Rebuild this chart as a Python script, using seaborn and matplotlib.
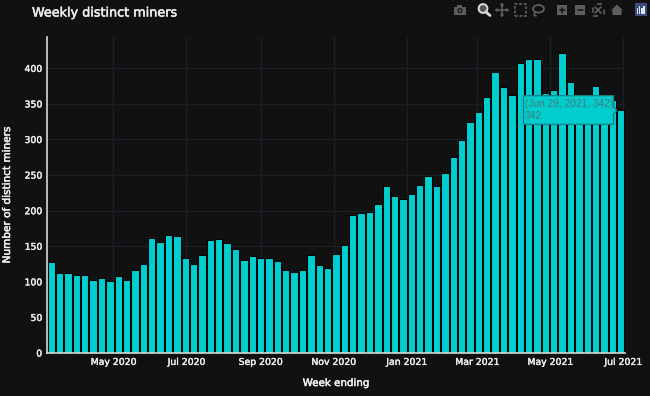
import matplotlib
matplotlib.use("Agg")
import matplotlib.pyplot as plt
import matplotlib.dates as mdates
import matplotlib.patches as mp
import matplotlib.patheffects as pe
from matplotlib.lines import Line2D
import pandas as pd
import seaborn as sns

first_week = "2020-03-10"
miners = [128, 112, 112, 109, 110, 102, 105, 101, 108, 102, 116, 125, 161, 156, 166, 164,
          133, 125, 138, 159, 160, 155, 146, 131, 136, 134, 134, 129, 116, 114, 117, 137,
          123, 119, 139, 152, 194, 197, 198, 209, 235, 220, 217, 224, 236, 248, 235, 253,
          276, 299, 324, 339, 360, 395, 374, 363, 407, 413, 413, 366, 370, 422, 381, 345,
          340, 375, 350, 356, 342]
title = "Weekly distinct miners"
xlabel = "Week ending"
ylabel = "Number of distinct miners"
tooltip_lines = ["(Jun 29, 2021, 342)", "342"]

BG = "#111111"
BAR = "#00CDCD"
GRID = "#1B2028"
TXT = "#F0F0F0"
W, H = 650, 396
BOLD = [pe.withStroke(linewidth=0.35, foreground=TXT)]

sns.set_theme(style="dark")
plt.rcParams["font.family"] = ["DejaVu Sans"]

weeks = pd.date_range(first_week, periods=len(miners), freq="7D")
df = pd.DataFrame({"week": mdates.date2num(weeks), "miners": miners})

fig = plt.figure(figsize=(6.5, 3.96), dpi=100, facecolor=BG)
ax = fig.add_axes([47 / W, 1 - 353 / H, (625 - 47) / W, (353 - 36.7) / H], facecolor=BG)

sns.barplot(data=df, x="week", y="miners", native_scale=True, color=BAR, saturation=1,
            width=0.88, edgecolor="#050505", linewidth=0.75, ax=ax, zorder=3)

ax.set_xlim(df.week.iloc[0] - 3.5, df.week.iloc[-1] + 3.5)
ax.set_ylim(0, 316.3 / 0.7117)
ax.xaxis_date()
ax.xaxis.set_major_locator(mdates.MonthLocator(bymonth=[1, 3, 5, 7, 9, 11]))
ax.xaxis.set_major_formatter(mdates.DateFormatter("%b %Y"))
ax.set_yticks(range(0, 401, 50))
ax.grid(True, color=GRID, linewidth=1, zorder=0)
ax.set_axisbelow(True)
ax.tick_params(axis="both", length=0, colors="#EDEDED", labelsize=6.7, pad=3.5)
for lab in ax.get_xticklabels() + ax.get_yticklabels():
    lab.set_path_effects([pe.withStroke(linewidth=0.3, foreground="#EDEDED")])
for s in ["top", "right"]:
    ax.spines[s].set_visible(False)
for s in ["left", "bottom"]:
    ax.spines[s].set_color("#D8D8D8")
    ax.spines[s].set_linewidth(1.2)
    ax.spines[s].set_zorder(5)
ax.set_xlabel("")
ax.set_ylabel("")


def fx(x):
    return x / W


def fy(y):
    return 1 - y / H


fig.text(fx(32), fy(13), title, color=TXT, fontsize=9.2, va="center", ha="left", path_effects=BOLD)
fig.text(fx(336), fy(383), xlabel, color=TXT, fontsize=7.4, va="center", ha="center", path_effects=BOLD)
fig.text(fx(7), fy(194), ylabel, color=TXT, fontsize=7.55, va="center", ha="center", rotation=90,
         path_effects=BOLD)

# Hover tooltip
TEAL_EDGE = "#137F83"
fig.add_artist(mp.Polygon([(fx(523.5), fy(95.7)), (fx(613.5), fy(95.7)), (fx(613.5), fy(107)),
                           (fx(617), fy(110.5)), (fx(613.5), fy(114)), (fx(613.5), fy(124.3)),
                           (fx(523.5), fy(124.3))], closed=True, transform=fig.transFigure,
                          facecolor=BAR, edgecolor=TEAL_EDGE, linewidth=0.9, zorder=10))
fig.text(fx(525), fy(104), tooltip_lines[0], color="#4A7A7D", fontsize=7.3, family="Liberation Sans",
         va="center", ha="left", zorder=11)
fig.text(fx(525), fy(116.5), tooltip_lines[1], color="#4A7A7D", fontsize=7.3, family="Liberation Sans",
         va="center", ha="left", zorder=11)

# Modebar icons
ICON = "#5E5E5E"


def rect(x, y, w, h, **kw):
    kw.setdefault("facecolor", ICON)
    kw.setdefault("edgecolor", "none")
    fig.add_artist(mp.Rectangle((fx(x), fy(y + h)), w / W, h / H, transform=fig.transFigure, **kw))


def line(xs, ys, color=ICON, lw=1.2, ls="-"):
    fig.add_artist(Line2D([fx(v) for v in xs], [fy(v) for v in ys], color=color, lw=lw, ls=ls,
                          transform=fig.transFigure))


def circle(x, y, r, **kw):
    fig.add_artist(mp.Ellipse((fx(x), fy(y)), 2 * r / W, 2 * r / H, transform=fig.transFigure, **kw))


# camera
rect(454, 6.5, 12, 8.5)
rect(457, 5, 5, 2)
circle(460, 10.5, 2.6, facecolor=BG, edgecolor="none")
circle(460, 10.5, 1.4, facecolor=ICON, edgecolor="none")
# zoom (active)
circle(483, 8.5, 4.4, facecolor="#555555", edgecolor="#DDDDDD", linewidth=1.4)
line([486, 490], [12, 15.5], color="#DDDDDD", lw=2)
# pan
line([496, 508], [10, 10]); line([502, 502], [4, 16])
for dx, dy in [(-5, 0), (5, 0), (0, -5), (0, 5)]:
    circle(502 + dx, 10 + dy, 1.6, facecolor=ICON, edgecolor="none")
# box select
rect(514.5, 4.5, 11, 11, facecolor="none", edgecolor=ICON, linewidth=1.3, linestyle=(0, (1.5, 1)))
# lasso
fig.add_artist(mp.Ellipse((fx(538.5), fy(8.8)), 11 / W, 7.5 / H, transform=fig.transFigure,
                          facecolor="none", edgecolor=ICON, linewidth=1.3))
line([535, 534, 536], [12, 15, 16], lw=1.2)
# plus
rect(557, 5, 10, 10)
line([559.5, 564.5], [10, 10], color=BG, lw=1.1); line([562, 562], [7.5, 12.5], color=BG, lw=1.1)
# minus
rect(575, 5, 10, 10)
line([577.5, 582.5], [10, 10], color=BG, lw=1.1)
# autoscale
rect(592.5, 4.5, 11, 11, facecolor="none", edgecolor=ICON, linewidth=1.2, linestyle=(0, (3, 4.5)))
line([595, 601], [7, 13]); line([595, 601], [13, 7])
# home
fig.add_artist(mp.Polygon([(fx(611), fy(10.5)), (fx(617), fy(4.5)), (fx(623), fy(10.5)), (fx(621.5), fy(10.5)),
                           (fx(621.5), fy(15)), (fx(612.5), fy(15)), (fx(612.5), fy(10.5))],
                          transform=fig.transFigure, facecolor=ICON, edgecolor="none"))
# plotly logo
rect(635, 3.5, 12, 12.5, facecolor="#3A4C7A")
for i, (top) in enumerate([8, 6, 8, 6]):
    rect(637 + i * 2.1, top, 1.3, 13.5 - top, facecolor="#DDE3EE")

fig.savefig("out.png", dpi=100, facecolor=BG)
